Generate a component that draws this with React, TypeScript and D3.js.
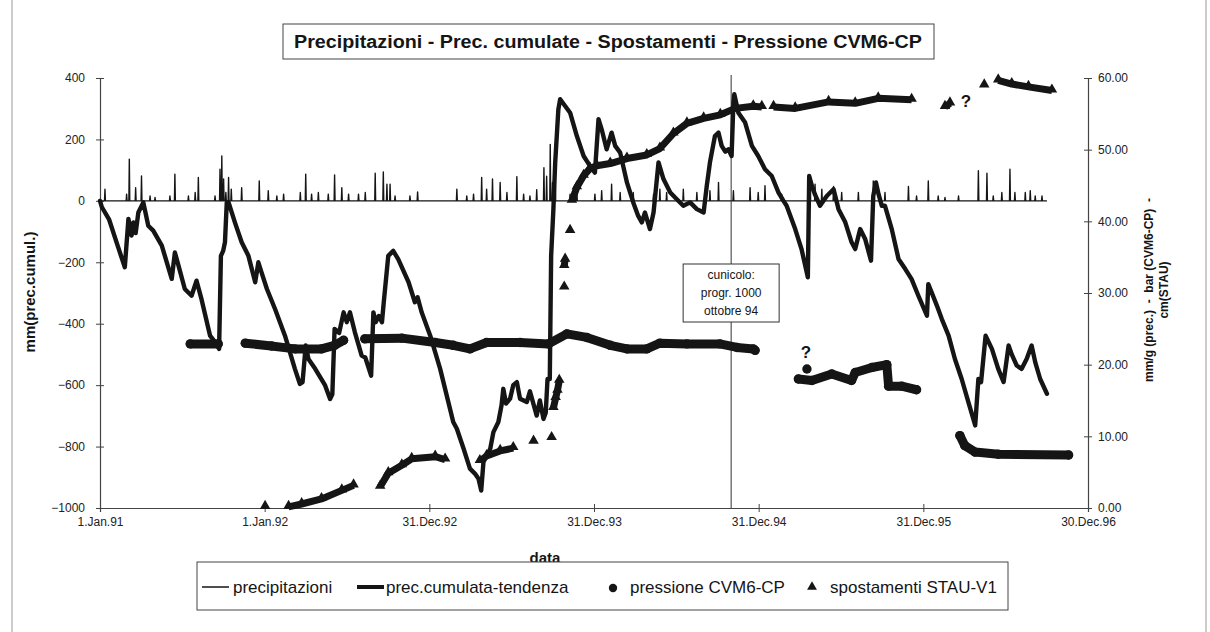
import React, { useRef, useEffect } from "react";
import * as d3 from "d3";

// days counted from 1.Jan.91
const START = new Date(1991, 0, 1);
const toDate = (d: number) => d3.timeDay.offset(START, d);

const xTickDays = [0, 365, 730, 1095, 1460, 1825, 2190];
const xTickLabels = ["1.Jan.91", "1.Jan.92", "31.Dec.92", "31.Dec.93", "31.Dec.94", "31.Dec.95", "30.Dec.96"];
const leftTicks = [-1000, -800, -600, -400, -200, 0, 200, 400];
const rightTicks = [0, 10, 20, 30, 40, 50, 60];

// precipitazioni: daily spikes [day, mm]
const precipitazioni: [number, number][] = [
  [11, 38], [59, 22], [65, 136], [79, 43], [92, 81], [111, 16], [122, 11], [155, 16], [166, 87],
  [196, 16], [211, 27], [218, 76], [255, 16], [266, 103], [270, 146], [274, 71], [279, 27], [285, 76],
  [291, 38], [314, 43], [353, 65], [373, 33], [392, 16], [407, 22], [444, 27], [456, 87], [469, 22],
  [484, 27], [506, 22], [520, 84], [536, 43], [551, 22], [573, 22], [588, 27], [610, 90], [628, 94],
  [636, 54], [643, 54], [654, 16], [687, 16], [704, 29], [791, 38], [813, 16], [828, 22], [846, 76],
  [857, 38], [870, 71], [887, 60], [902, 27], [924, 79], [939, 22], [953, 16], [968, 36], [984, 108],
  [990, 80], [998, 184], [1003, 60], [1009, 71], [1042, 22], [1057, 27], [1097, 22], [1112, 33],
  [1134, 54], [1153, 27], [1182, 27], [1227, 22], [1241, 38], [1256, 27], [1293, 38], [1323, 27],
  [1352, 33], [1371, 60], [1404, 33], [1441, 43], [1459, 27], [1474, 49], [1511, 22], [1574, 84],
  [1585, 54], [1600, 38], [1626, 47], [1644, 27], [1681, 27], [1714, 65], [1740, 27], [1792, 47],
  [1810, 16], [1836, 65], [1858, 16], [1873, 11], [1903, 16], [1947, 98], [1966, 90], [1980, 16],
  [1999, 27], [2017, 103], [2028, 27], [2051, 27], [2062, 33], [2073, 16], [2088, 16],
];
const precEnd = 2099;

// prec.cumulata-tendenza [day, mm]
const precCumulata: [number, number][] = [
  [0, 0], [4, -20], [20, -60], [40, -150], [55, -216], [63, -59], [70, -113], [74, -70], [79, -105],
  [85, -38], [96, -5], [107, -81], [118, -97], [137, -146], [159, -254], [166, -168], [174, -211],
  [188, -287], [203, -309], [214, -260], [225, -320], [244, -439], [255, -460], [264, -482],
  [268, -179], [273, -163], [277, -135], [281, -5], [285, -5], [299, -70], [314, -135], [329, -179],
  [344, -265], [351, -200], [358, -233], [370, -287], [388, -352], [410, -439], [432, -547],
  [443, -596], [449, -590], [456, -471], [462, -515], [477, -547], [499, -601], [510, -645],
  [515, -630], [520, -417], [530, -430], [540, -363], [547, -395], [554, -363], [565, -428],
  [580, -504], [588, -510], [601, -569], [606, -363], [611, -395], [618, -375], [625, -395],
  [629, -330], [639, -179], [650, -163], [661, -190], [684, -265], [698, -330], [704, -314],
  [713, -363], [732, -439], [754, -547], [783, -720], [791, -742], [806, -807], [820, -872],
  [831, -888], [839, -905], [845, -943], [850, -850], [865, -807], [872, -753], [883, -720],
  [890, -666], [894, -612], [900, -660], [909, -644], [916, -600], [924, -590], [931, -644],
  [946, -655], [953, -620], [968, -699], [975, -650], [983, -710], [988, -690], [992, -580],
  [997, -580], [1000, -179], [1005, -27], [1009, 125], [1016, 298], [1020, 331], [1031, 309],
  [1042, 287], [1057, 211], [1072, 146], [1086, 114], [1097, 92], [1105, 266], [1112, 233],
  [1123, 168], [1134, 222], [1142, 179], [1153, 157], [1168, 60], [1182, -5], [1193, -49],
  [1201, -70], [1208, -38], [1219, -92], [1227, -38], [1238, 125], [1249, 71], [1264, 27],
  [1278, 6], [1293, -16], [1308, -5], [1323, -27], [1338, -38], [1345, 49], [1352, 125],
  [1363, 211], [1371, 222], [1378, 179], [1386, 160], [1393, 168], [1400, 146], [1404, 320],
  [1406, 347], [1415, 287], [1430, 255], [1445, 179], [1459, 146], [1474, 103], [1489, 81],
  [1504, 27], [1515, 0], [1522, -16], [1541, -92], [1555, -157], [1569, -249], [1572, 81],
  [1578, 49], [1585, 20], [1596, -16], [1611, 16], [1626, 38], [1637, -27], [1652, -70],
  [1666, -135], [1674, -157], [1685, -92], [1696, -124], [1709, -195], [1714, 16], [1720, 60],
  [1726, 20], [1733, -16], [1740, -16], [1755, -92], [1770, -189], [1785, -222], [1799, -255],
  [1814, -309], [1833, -374], [1836, -271], [1844, -300], [1855, -341], [1866, -385],
  [1881, -439], [1895, -515], [1910, -580], [1925, -656], [1940, -731], [1947, -580],
  [1953, -590], [1963, -439], [1977, -482], [1991, -547], [2003, -590], [2014, -471],
  [2021, -500], [2032, -536], [2043, -547], [2054, -515], [2065, -471], [2073, -525],
  [2084, -580], [2099, -628],
];

// pressione CVM6-CP [day, bar]; null = gap in the readings
const pressione: [number, number | null][] = [
  [200, 22.9], [262, 22.9], [290, null],
  [322, 23.0], [380, 22.6], [432, 22.2], [491, 22.2], [520, 22.7], [540, 23.4], [560, null],
  [587, 23.6], [669, 23.7], [743, 23.1], [783, 22.7], [820, 22.2], [857, 23.1], [931, 23.1],
  [994, 22.9], [1035, 24.3], [1079, 23.8], [1131, 22.7], [1168, 22.2], [1212, 22.2], [1241, 23.0],
  [1301, 22.9], [1374, 22.9], [1412, 22.4], [1448, 22.2], [1452, 22.0], [1500, null],
  [1548, 18.0], [1578, 17.8], [1622, 18.7], [1666, 17.8], [1674, 18.9], [1711, 19.6], [1744, 20.0],
  [1748, 17.0], [1777, 17.0], [1810, 16.5], [1850, null],
  [1906, 10.1], [1917, 8.7], [1940, 7.8], [1991, 7.5], [2147, 7.4],
];
const pressioneDubbia: [number, number][] = [[1567, 19.4]];

// spostamenti STAU-V1 [day, cm]; null = gap
const spostamenti: [number, number | null][] = [
  [366, 0.3], [390, null],
  [418, 0.3], [447, 0.7], [491, 1.4], [536, 2.6], [562, 3.3], [590, null],
  [621, 3.1], [639, 5.0], [669, 6.1], [691, 7.0], [743, 7.3], [765, 6.9], [800, null],
  [842, 6.7], [857, 7.4], [887, 8.1], [916, 8.5], [940, null],
  [961, 9.4], [980, null], [1001, 9.9], [1003, null],
  [1005, 14.1], [1010, 15.5], [1014, 16.5], [1018, 17.9], [1024, null],
  [1029, 30.9], [1029.5, null], [1029, 33.9], [1031, 34.8], [1036, null], [1042, 38.8], [1044, null],
  [1046, 43.0], [1057, 44.9], [1072, 46.5], [1086, 47.5], [1101, 47.9], [1131, 48.2], [1168, 48.9],
  [1212, 49.4], [1241, 50.3], [1271, 52.4], [1301, 53.8], [1338, 54.5], [1375, 55.0], [1408, 55.9],
  [1448, 56.2], [1467, 56.1], [1480, null],
  [1493, 56.1], [1541, 55.9], [1615, 56.8], [1674, 56.6], [1725, 57.3], [1799, 57.1], [1840, null],
  [1873, 56.1], [1884, 56.6], [1920, null],
  [1960, 59.1], [1975, null],
  [1991, 59.8], [2021, 59.3], [2058, 58.9], [2110, 58.4],
];

const noteDay = 1399; // cunicolo progr. 1000, ottobre 94
const noteLines = ["cunicolo:", "progr. 1000", "ottobre 94"];

const FONT = "'Liberation Sans', Arial, sans-serif";
const INK = "#151515";

const App = () => {
  const svgRef = useRef<SVGSVGElement | null>(null);

  useEffect(() => {
    const svg = d3.select(svgRef.current);
    svg.selectAll("*").remove();

    const left = 100, right = 1088, top = 78, bottom = 508;

    const x = d3.scaleTime().domain([START, toDate(2190)]).range([left, right]);
    const yL = d3.scaleLinear().domain([-1000, 400]).range([bottom, top]);
    const yR = d3.scaleLinear().domain([0, 60]).range([bottom, top]);

    // outer frame
    svg.append("rect").attr("x", 12).attr("y", -2).attr("width", 1194).attr("height", 640)
      .attr("fill", "none").attr("stroke", "#999").attr("stroke-width", 1);

    // axes
    const gx = svg.append("g").attr("transform", `translate(0,${bottom})`)
      .call(d3.axisBottom(x).tickValues(xTickDays.map(toDate)).tickSize(4).tickPadding(5)
        .tickFormat((_, i) => xTickLabels[i]));
    const gl = svg.append("g").attr("transform", `translate(${left},0)`)
      .call(d3.axisLeft(yL).tickValues(leftTicks).tickSize(4).tickPadding(11).tickFormat(d3.format("d")));
    const gr = svg.append("g").attr("transform", `translate(${right},0)`)
      .call(d3.axisRight(yR).tickValues(rightTicks).tickSize(4).tickPadding(6).tickFormat(d3.format(".2f")));

    [gx, gl, gr].forEach((g) => {
      g.select(".domain").attr("stroke", "#444").attr("stroke-width", 1.2);
      g.selectAll(".tick line").attr("stroke", "#444");
      g.selectAll(".tick text").attr("font-family", FONT).attr("font-size", 12).attr("fill", "#222");
    });
    gx.selectAll(".tick line").attr("y1", -4).attr("y2", 4);
    gl.selectAll(".tick line").attr("x1", 4).attr("x2", -4);
    gr.selectAll(".tick line").attr("x1", -4).attr("x2", 4);

    // axis titles
    svg.append("text").attr("transform", "translate(35,292) rotate(-90)")
      .attr("text-anchor", "middle").attr("font-family", FONT).attr("font-weight", "bold")
      .attr("font-size", 15).attr("fill", INK).text("mm(prec.cumul.)");
    const rt = svg.append("text").attr("transform", "translate(1153,290) rotate(-90)")
      .attr("text-anchor", "middle").attr("font-family", FONT).attr("font-weight", "bold")
      .attr("font-size", 12).attr("fill", INK);
    rt.append("tspan").attr("x", 0).attr("dy", 0).text("mm/g (prec.)\u00a0\u00a0-\u00a0\u00a0bar (CVM6-CP)\u00a0\u00a0-");
    rt.append("tspan").attr("x", 0).attr("dy", 15).text("cm(STAU)");

    // precipitazioni: spikes over a zero baseline
    const precPts: [number, number][] = [[0, 0]];
    precipitazioni.forEach(([d, v]) => { precPts.push([d - 1, 0], [d, v], [d + 1, 0]); });
    precPts.push([precEnd, 0]);
    const lineL = d3.line<[number, number]>().x((d) => x(toDate(d[0]))).y((d) => yL(d[1]));
    svg.append("path").attr("d", lineL(precPts)).attr("fill", "none")
      .attr("stroke", INK).attr("stroke-width", 1.4).attr("stroke-linejoin", "round");

    // annotation line
    svg.append("line").attr("x1", x(toDate(noteDay))).attr("x2", x(toDate(noteDay)))
      .attr("y1", top - 3).attr("y2", bottom).attr("stroke", "#333").attr("stroke-width", 1);

    // prec. cumulata
    svg.append("path").attr("d", lineL(precCumulata)).attr("fill", "none")
      .attr("stroke", INK).attr("stroke-width", 4.4).attr("stroke-linejoin", "round").attr("stroke-linecap", "round");

    const lineR = d3.line<[number, number | null]>()
      .defined((d) => d[1] != null)
      .x((d) => x(toDate(d[0]))).y((d) => yR(d[1] as number));

    // pressione: dense dots drawn as a round band
    svg.append("path").attr("d", lineR(pressione)).attr("fill", "none")
      .attr("stroke", INK).attr("stroke-width", 9).attr("stroke-linecap", "round").attr("stroke-linejoin", "round");
    svg.selectAll("circle.p").data([...pressione.filter((d) => d[1] != null), ...pressioneDubbia])
      .enter().append("circle").attr("class", "p")
      .attr("cx", (d) => x(toDate(d[0]))).attr("cy", (d) => yR(d[1] as number))
      .attr("r", 4.7).attr("fill", INK);

    // spostamenti: dense triangles
    svg.append("path").attr("d", lineR(spostamenti)).attr("fill", "none")
      .attr("stroke", INK).attr("stroke-width", 7).attr("stroke-linejoin", "round")
      .attr("transform", "translate(0,1)");
    const tri = d3.symbol().type(d3.symbolTriangle).size(48);
    svg.selectAll("path.t").data(spostamenti.filter((d) => d[1] != null))
      .enter().append("path").attr("class", "t").attr("d", tri)
      .attr("transform", (d) => `translate(${x(toDate(d[0]))},${yR(d[1] as number)})`)
      .attr("fill", INK);

    // question marks
    const q = [[806, 352], [966, 101]];
    q.forEach(([qx, qy]) => {
      svg.append("text").attr("x", qx).attr("y", qy + 6).attr("text-anchor", "middle")
        .attr("font-family", FONT).attr("font-weight", "bold").attr("font-size", 17).attr("fill", INK).text("?");
    });

    // annotation box
    const nx = x(toDate(noteDay));
    svg.append("rect").attr("x", nx - 48).attr("y", 264).attr("width", 96).attr("height", 58)
      .attr("fill", "#fff").attr("stroke", "#333").attr("stroke-width", 1);
    noteLines.forEach((t, i) => {
      svg.append("text").attr("x", nx).attr("y", 279 + i * 18).attr("text-anchor", "middle")
        .attr("font-family", FONT).attr("font-size", 12).attr("fill", INK).text(t);
    });

    // title
    svg.append("rect").attr("x", 283).attr("y", 24).attr("width", 651).attr("height", 35)
      .attr("fill", "#fff").attr("stroke", "#444").attr("stroke-width", 1);
    svg.append("text").attr("x", 608).attr("y", 48).attr("text-anchor", "middle")
      .attr("font-family", "'Liberation Sans Narrow', 'Liberation Sans', Arial, sans-serif")
      .attr("font-weight", "bold").attr("font-size", 18).attr("fill", INK)
      .attr("textLength", 628).attr("lengthAdjust", "spacingAndGlyphs")
      .text("Precipitazioni - Prec. cumulate - Spostamenti - Pressione CVM6-CP");

    // x title
    svg.append("text").attr("x", 545).attr("y", 563).attr("text-anchor", "middle")
      .attr("font-family", FONT).attr("font-weight", "bold").attr("font-size", 15).attr("fill", INK).text("data");

    // legend
    svg.append("rect").attr("x", 197).attr("y", 562).attr("width", 811).attr("height", 48)
      .attr("fill", "#fff").attr("stroke", "#444").attr("stroke-width", 1);
    const ly = 587;
    const lt = (tx: number, t: string) => svg.append("text").attr("x", tx).attr("y", ly + 6)
      .attr("font-family", FONT).attr("font-size", 17).attr("fill", INK).text(t);
    svg.append("line").attr("x1", 202).attr("x2", 229).attr("y1", ly).attr("y2", ly).attr("stroke", INK).attr("stroke-width", 1.5);
    lt(233, "precipitazioni");
    svg.append("line").attr("x1", 357).attr("x2", 384).attr("y1", ly).attr("y2", ly).attr("stroke", INK).attr("stroke-width", 4);
    lt(386, "prec.cumulata-tendenza");
    svg.append("circle").attr("cx", 613).attr("cy", ly + 1).attr("r", 4.2).attr("fill", INK);
    lt(630, "pressione CVM6-CP");
    svg.append("path").attr("d", d3.symbol().type(d3.symbolTriangle).size(42)).attr("transform", `translate(812,${ly})`).attr("fill", INK);
    lt(830, "spostamenti STAU-V1");

    return () => {};
  }, []);

  return <svg ref={svgRef} width={1210} height={632} style={{ position: "absolute", left: 0, top: 0, background: "#fff" }} />;
};

export default App;
